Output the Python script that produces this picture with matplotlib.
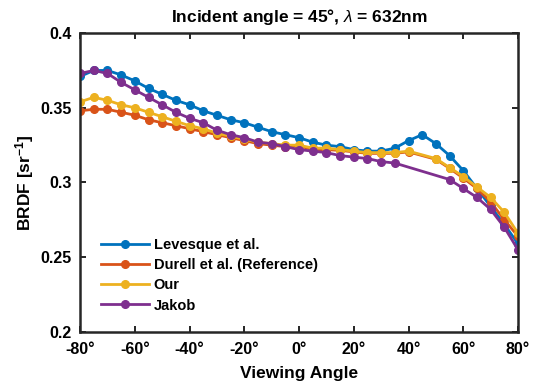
import matplotlib
matplotlib.use("Agg")
import matplotlib.pyplot as plt
import numpy as np

plt.rcParams['font.family'] = ['Liberation Sans', 'DejaVu Sans']
plt.rcParams['mathtext.fontset'] = 'custom'
plt.rcParams['mathtext.rm'] = 'Liberation Sans'
plt.rcParams['mathtext.it'] = 'Liberation Sans:italic'
plt.rcParams['mathtext.bf'] = 'Liberation Sans:bold'

# Viewing angles (degrees)
angles_full = list(range(-80, 85, 5))
angles_our = list(range(-80, 45, 5)) + list(range(50, 85, 5))
angles_jakob = list(range(-80, 40, 5)) + list(range(55, 85, 5))

levesque = [0.371, 0.375, 0.375, 0.372, 0.368, 0.363, 0.359, 0.355, 0.352, 0.348,
            0.345, 0.342, 0.340, 0.337, 0.334, 0.332, 0.330, 0.327, 0.325, 0.324,
            0.322, 0.321, 0.321, 0.323, 0.328, 0.332, 0.326, 0.318, 0.308, 0.296,
            0.284, 0.272, 0.259]
durell = [0.348, 0.349, 0.349, 0.347, 0.345, 0.342, 0.340, 0.338, 0.336, 0.334,
          0.332, 0.330, 0.328, 0.326, 0.325, 0.324, 0.3245, 0.322, 0.322, 0.3215,
          0.3205, 0.3195, 0.3195, 0.3195, 0.3205,
          0.3155, 0.3095, 0.303, 0.296, 0.287, 0.275, 0.264]
our = [0.354, 0.357, 0.355, 0.352, 0.350, 0.347, 0.344, 0.341, 0.338, 0.336,
       0.333, 0.331, 0.329, 0.327, 0.326, 0.325, 0.325, 0.323, 0.323, 0.322,
       0.321, 0.320, 0.320, 0.320, 0.321,
       0.316, 0.310, 0.304, 0.297, 0.290, 0.280, 0.266]
jakob = [0.373, 0.375, 0.373, 0.367, 0.362, 0.357, 0.352, 0.347, 0.343, 0.340,
         0.335, 0.332, 0.330, 0.327, 0.326, 0.324, 0.322, 0.321, 0.320, 0.318,
         0.317, 0.316, 0.314, 0.313,
         0.302, 0.296, 0.290, 0.282, 0.270, 0.255]

series = [
    ("Levesque et al.", angles_full, levesque, "#0072BD"),
    ("Durell et al. (Reference)", angles_our, durell, "#D95319"),
    ("Our", angles_our, our, "#EDB120"),
    ("Jakob", angles_jakob, jakob, "#7E2F8E"),
]

xticks = [-80, -60, -40, -20, 0, 20, 40, 60, 80]
yticks = [0.2, 0.25, 0.3, 0.35, 0.4]
ytick_labels = ["0.2", "0.25", "0.3", "0.35", "0.4"]

fig = plt.figure(figsize=(5.34, 3.85), dpi=100)
ax = fig.add_axes([0.150, 0.138, 0.820, 0.776])

for name, xs, ys, color in series:
    ax.plot(xs, ys, '-o', color=color, lw=2, ms=5.5, label=name)

ax.set_xlim(-80, 80)
ax.set_ylim(0.2, 0.4)
ax.set_xticks(xticks)
ax.set_xticklabels([f"{t}\u00b0" for t in xticks])
ax.set_yticks(yticks)
ax.set_yticklabels(ytick_labels)
ax.tick_params(direction='in', top=True, right=True, length=4, width=1.2,
               labelsize=11.5)
ax.tick_params(axis='x', pad=7)
ax.tick_params(axis='y', pad=6)
for lbl in ax.get_xticklabels() + ax.get_yticklabels():
    lbl.set_fontweight('bold')
for sp in ax.spines.values():
    sp.set_linewidth(1.8)
    sp.set_color('#262626')

ax.set_xlabel("Viewing Angle", fontsize=12.5, fontweight='bold', labelpad=7)
ax.set_ylabel(r"BRDF [sr$^{\mathbf{-1}}$]", fontsize=12.5, fontweight='bold', labelpad=3)
ax.set_title(r"Incident angle = 45°, $\lambda$ = 632nm", fontsize=12.5,
             fontweight='bold', pad=8)

leg = ax.legend(loc='lower left', bbox_to_anchor=(0.035, 0.045), frameon=False,
                prop={'weight': 'bold', 'size': 10.5}, handlelength=3.3,
                handletextpad=0.3, labelspacing=0.42, borderaxespad=0)

fig.savefig("out.png", dpi=100)
